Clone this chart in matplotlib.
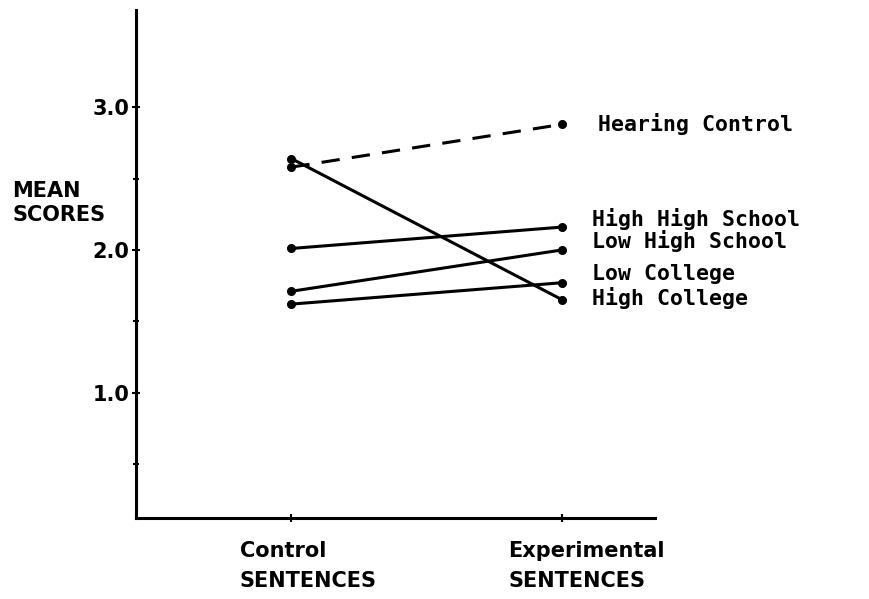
import matplotlib.pyplot as plt

conditions = ["Control\nSENTENCES", "Experimental\nSENTENCES"]
groups = ["Hearing Control", "High High School", "Low High School", "Low College", "High College"]
control = [2.58, 2.01, 1.71, 1.62, 2.64]
experimental = [2.88, 2.16, 2.00, 1.77, 1.65]
styles = ["--", "-", "-", "-", "-"]
label_offset = [0.0, 0.055, 0.06, 0.06, 0.015]
ytick_vals = [1.0, 2.0, 3.0]
ytick_labels = ["1.0", "2.0", "3.0"]

fig = plt.figure(figsize=(8.69, 5.99), dpi=100)
ax = fig.add_axes([0.157, 0.135, 0.597, 0.848])

xs = [0, 1]
for i, g in enumerate(groups):
    ax.plot(xs, [control[i], experimental[i]], ls=styles[i], color="black",
            lw=2.2, marker="o", ms=5.5, dashes=(6, 4) if styles[i] == "--" else (None, None))
    ax.text(1.13 if i == 0 else 1.11, experimental[i] + label_offset[i], g,
            fontsize=15.5, family="DejaVu Sans Mono", fontweight="bold",
            va="center", ha="left", clip_on=False)

ax.set_xlim(-0.572, 1.343)
ax.set_ylim(0.12, 3.68)

for s in ["top", "right"]:
    ax.spines[s].set_visible(False)
for s in ["left", "bottom"]:
    ax.spines[s].set_linewidth(2.2)

ax.set_yticks(ytick_vals)
ax.set_yticklabels(ytick_labels, fontsize=15, fontweight="bold")
ax.set_yticks([0.5, 1.5, 2.5], minor=True)
ax.tick_params(axis="y", which="major", direction="inout", length=6, width=1.5, pad=2)
ax.tick_params(axis="y", which="minor", direction="inout", length=4, width=1.5)
ax.set_xticks(xs)
ax.set_xticklabels([])
ax.tick_params(axis="x", direction="inout", length=6, width=1.5)

# category labels, left aligned under the ticks
for x, lab in zip([-0.19, 0.80], conditions):
    ax.text(x, -0.045, lab, transform=ax.get_xaxis_transform(), ha="left", va="top",
            fontsize=15, fontweight="bold", linespacing=1.6)

fig.text(0.014, 0.661, "MEAN\nSCORES", fontsize=15, fontweight="bold",
         ha="left", va="center", linespacing=1.3)

fig.savefig("out.png", dpi=100)
